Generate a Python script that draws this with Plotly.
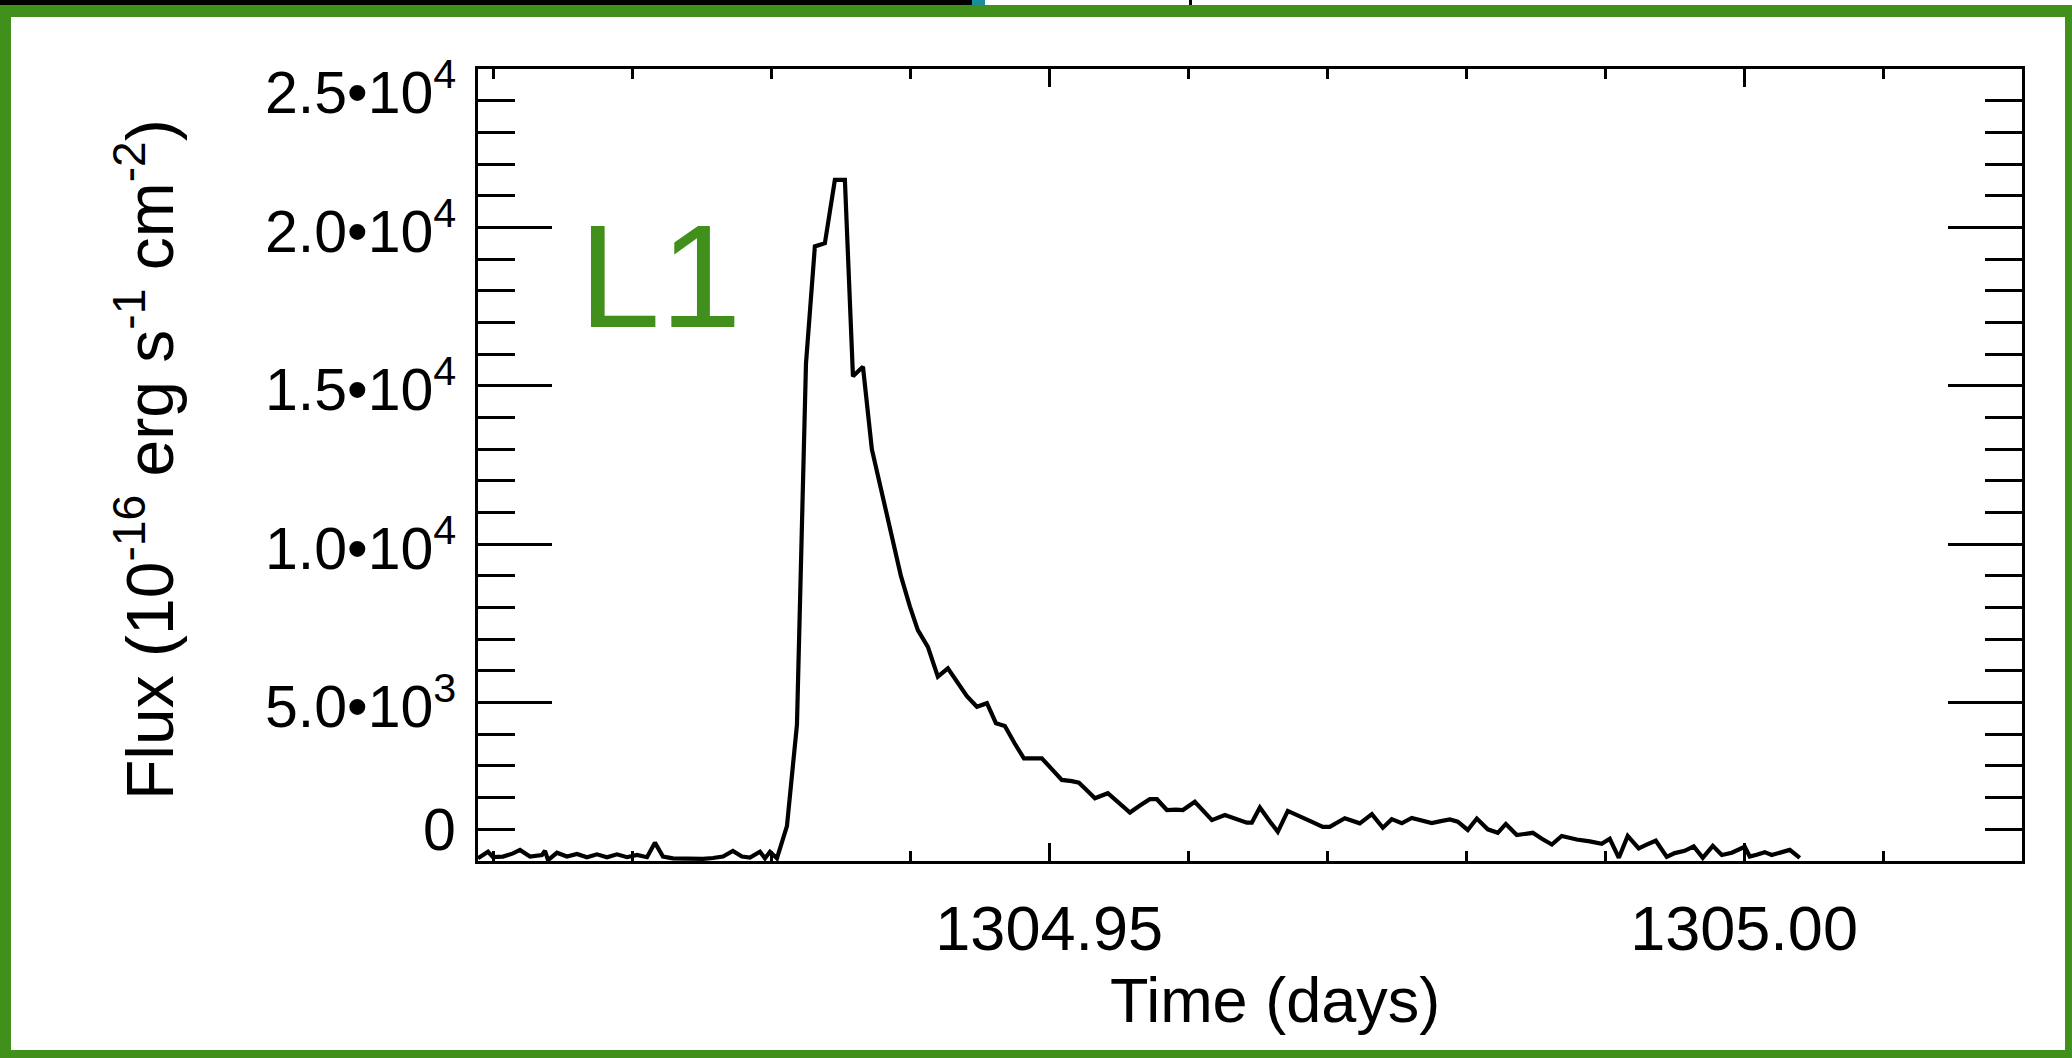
import plotly.graph_objects as go

# Light curve of flare L1 (1-minute cadence), time in days, flux in 1e-16 erg/s/cm^2
time_days = [
    1304.90890, 1304.90926, 1304.90962, 1304.90998, 1304.91070, 1304.91142, 1304.91192,
    1304.91264, 1304.91350, 1304.91372, 1304.91394, 1304.91458, 1304.91530, 1304.91602,
    1304.91674, 1304.91746, 1304.91818, 1304.91890, 1304.91962, 1304.92034, 1304.92106,
    1304.92163, 1304.92221, 1304.92293, 1304.92365, 1304.92437, 1304.92509, 1304.92581,
    1304.92653, 1304.92724, 1304.92789, 1304.92847, 1304.92919, 1304.92955, 1304.92991,
    1304.93041, 1304.93113, 1304.93185, 1304.93250, 1304.93314, 1304.93386, 1304.93458,
    1304.93530, 1304.93588, 1304.93660, 1304.93724, 1304.93796, 1304.93868, 1304.93933,
    1304.93998, 1304.94055, 1304.94127, 1304.94199, 1304.94271, 1304.94336, 1304.94408,
    1304.94480, 1304.94552, 1304.94617, 1304.94681, 1304.94753, 1304.94818, 1304.94890,
    1304.94947, 1304.95019, 1304.95091, 1304.95163, 1304.95214, 1304.95278, 1304.95329,
    1304.95422, 1304.95494, 1304.95581, 1304.95653, 1304.95724, 1304.95775, 1304.95847,
    1304.95912, 1304.95962, 1304.96048, 1304.96113, 1304.96171, 1304.96264, 1304.96343,
    1304.96422, 1304.96458, 1304.96516, 1304.96588, 1304.96645, 1304.96717, 1304.96804,
    1304.96883, 1304.96969, 1304.97019, 1304.97127, 1304.97235, 1304.97322, 1304.97401,
    1304.97465, 1304.97537, 1304.97609, 1304.97674, 1304.97753, 1304.97818, 1304.97883,
    1304.97940, 1304.98012, 1304.98077, 1304.98156, 1304.98228, 1304.98286, 1304.98365,
    1304.98422, 1304.98480, 1304.98545, 1304.98617, 1304.98688, 1304.98746, 1304.98796,
    1304.98890, 1304.98976, 1304.99034, 1304.99099, 1304.99163, 1304.99242, 1304.99307,
    1304.99365, 1304.99444, 1304.99501, 1304.99573, 1304.99638, 1304.99703, 1304.99775,
    1304.99840, 1304.99912, 1305.00005, 1305.00041, 1305.00091, 1305.00149, 1305.00199,
    1305.00257, 1305.00329, 1305.00401,
]

flux = [
    85, 190, 290, 120, 140, 240, 350,
    140, 190, 320, 30, 260, 140, 220,
    120, 210, 120, 210, 120, 190, 120,
    580, 140, 85, 70, 70, 70, 95,
    140, 320, 140, 105, 290, 85, 290,
    85, 1100, 4300, 15700, 19400, 19500, 21500,
    21500, 15300, 15600, 13000, 11600, 10200, 9000,
    8030, 7290, 6760, 5820, 6080, 5650, 5200,
    4870, 4980, 4350, 4260, 3700, 3240, 3240,
    3240, 2900, 2560, 2520, 2470, 2200, 1980,
    2140, 1850, 1530, 1750, 1950, 1950, 1610,
    1620, 1610, 1870, 1550, 1290, 1450, 1330,
    1210, 1210, 1690, 1250, 920, 1580, 1420,
    1250, 1080, 1080, 1350, 1190, 1480, 1050,
    1320, 1190, 1360, 1280, 1200, 1260, 1310,
    1240, 980, 1340, 1000, 890, 1170, 820,
    860, 890, 700, 520, 790, 720, 680,
    620, 540, 700, 100, 790, 400, 530,
    640, 130, 250, 320, 460, 100, 480,
    190, 260, 450, 140, 200, 280, 190,
    260, 350, 100,
]

y_tick_values = [0, 5000, 10000, 15000, 20000, 25000]
y_tick_labels = ["0", "5.0•10<sup>3</sup>", "1.0•10<sup>4</sup>", "1.5•10<sup>4</sup>",
                 "2.0•10<sup>4</sup>", "2.5•10<sup>4</sup>"]
# vertical nudges (px) of the end labels so they stay inside the frame
y_label_shift = [31, 0, 0, 0, 0, -19]
x_range = [1304.9089, 1305.0200]
y_range = [0, 25000]

flare_label = "L1"
x_title = "Time (days)"
y_title = "Flux (10<sup>-16</sup> erg s<sup>-1</sup> cm<sup>-2</sup>)"

W, H = 2072, 1058
L, R, T, B = 478, 50, 69, 197
PW, PH = W - L - R, H - T - B
GREEN = "#41901b"
FONT = "Liberation Sans, Arial, Helvetica, sans-serif"


def px(x):
    return (x - L) / PW


def py(y):
    return (H - B - y) / PH


fig = go.Figure()
fig.add_trace(go.Scatter(
    x=time_days, y=flux, mode="lines",
    line=dict(color="black", width=4.2),
    showlegend=False, hoverinfo="skip",
))

axis_common = dict(
    showline=True, linecolor="black", linewidth=3, mirror="ticks",
    ticks="inside", tickcolor="black", showgrid=False, zeroline=False,
)

fig.update_xaxes(
    range=x_range, tickmode="linear", tick0=1305.0, dtick=0.05, tickformat=".2f",
    ticklen=18, tickwidth=2.5, ticklabelstandoff=10,
    tickfont=dict(family=FONT, size=63, color="black"),
    minor=dict(tickmode="linear", tick0=1305.0, dtick=0.01, ticklen=10,
               tickwidth=2.5, ticks="inside", tickcolor="black", showgrid=False),
    **axis_common,
)
fig.update_yaxes(
    range=y_range, tickmode="array", tickvals=y_tick_values, showticklabels=False,
    ticklen=74, tickwidth=2.5,
    minor=dict(tickmode="linear", tick0=0, dtick=1000, ticklen=37,
               tickwidth=2.5, ticks="inside", tickcolor="black", showgrid=False),
    **axis_common,
)

annotations = [
    dict(text=lab, x=0, y=val, xref="paper", yref="y", xanchor="right",
         yanchor="middle", xshift=-20, yshift=sh, showarrow=False,
         font=dict(family=FONT, size=59, color="black"))
    for val, lab, sh in zip(y_tick_values, y_tick_labels, y_label_shift)
]
annotations += [
    dict(text=flare_label, x=px(660), y=py(276), xref="paper", yref="paper",
         xanchor="center", yanchor="middle", showarrow=False,
         font=dict(family=FONT, size=146, color=GREEN)),
    dict(text=x_title, x=px(1275), y=py(1000), xref="paper", yref="paper",
         xanchor="center", yanchor="middle", showarrow=False,
         font=dict(family=FONT, size=63, color="black")),
    dict(text=y_title, x=px(145), y=py(460), xref="paper", yref="paper",
         xanchor="center", yanchor="middle", showarrow=False, textangle=-90,
         font=dict(family=FONT, size=66, color="black")),
]


def rect(x0, y0, x1, y1, color):
    return dict(type="rect", xref="paper", yref="paper",
                x0=px(x0), x1=px(x1), y0=py(y0), y1=py(y1),
                fillcolor=color, line=dict(width=0), layer="above")


shapes = [
    rect(0, 0, 972, 5, "black"),
    rect(972, 0, 985, 5, "#1b8d9c"),
    rect(1189, 0, 1192, 5, "black"),
    rect(0, 5, W, 17, GREEN),
    rect(0, 5, 11, H, GREEN),
    rect(W - 7, 5, W, H, GREEN),
    rect(0, H - 8, W, H, GREEN),
]

fig.update_layout(
    width=W, height=H,
    margin=dict(l=L, r=R, t=T, b=B, pad=0),
    paper_bgcolor="white", plot_bgcolor="white",
    annotations=annotations, shapes=shapes,
    font=dict(family=FONT, color="black"),
)

fig.write_html("out.html")
